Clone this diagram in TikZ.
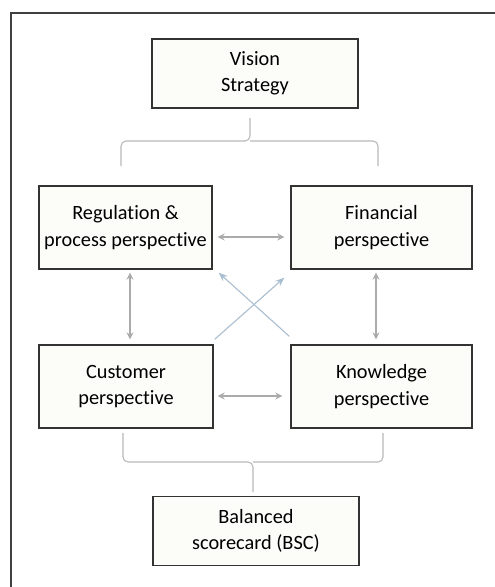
\documentclass[tikz,border=0pt]{standalone}
\usepackage{fontspec}
\setmainfont[RawFeature={-liga;-clig;-calt;-dlig}]{Carlito}
\usetikzlibrary{arrows.meta,calc}
\definecolor{boxfill}{HTML}{FCFCF8}
\definecolor{linkgray}{HTML}{ABABAB}
\definecolor{bracegray}{HTML}{B8B8B8}
\definecolor{crossblue}{HTML}{A9BED0}
\tikzset{
  persp/.style={draw=black!80,line width=1.3pt,fill=boxfill,align=center,
    font=\fontsize{20.3}{26.5}\selectfont,inner sep=0pt},
  twoway/.style={linkgray,line width=1.4pt,{Stealth[length=7pt,width=7pt]}-{Stealth[length=7pt,width=7pt]}},
  cross/.style={crossblue,line width=1.1pt,-{Stealth[length=9pt,width=7pt]}},
  brace/.style={bracegray,line width=1.1pt,rounded corners=5pt}
}
\newcommand{\persp}[5]{
  \node[persp,minimum width=#3,minimum height=#4] (#1) at #2 {#5};% one box
}
\begin{document}
\begin{tikzpicture}[x=1pt,y=-1pt]
  \useasboundingbox (0,0) rectangle (495,587);
  \draw[black!75,line width=1.6pt] (11,590) -- (11,13) -- (498,13);% Page frame

  \persp{vision}{(255,73.5)}{206pt}{69pt}{Vision\\Strategy}
  \persp{reg}{(125.5,227.5)}{173pt}{83pt}{Regulation \&\\process perspective}
  \persp{fin}{(381.5,227.5)}{181pt}{83pt}{Financial\\perspective}
  \persp{cust}{(126,386.5)}{174pt}{83pt}{Customer\\perspective}
  \persp{know}{(381.5,386.5)}{181pt}{83pt}{Knowledge\\perspective}
  \persp{bsc}{(256,531)}{206pt}{69pt}{Balanced\\scorecard (BSC)}

  % Braces
  \coordinate (topmid) at (250,141);
  \draw[brace] (121,166) |- (topmid) -- ([yshift=23pt]topmid);
  \draw[brace] (378,166) |- (topmid);
  \coordinate (botmid) at (253,462);
  \draw[brace] (123,433) |- (botmid) -- ([yshift=-30pt]botmid);
  \draw[brace] (383,433) |- (botmid);

  % Links between perspectives
  \draw[twoway] ([xshift=5pt,yshift=-9.5pt]reg.east) -- ([xshift=-6pt,yshift=-9.5pt]fin.west);
  \draw[twoway] ([xshift=4pt,yshift=-9.5pt]cust.east) -- ([xshift=-8pt,yshift=-9.5pt]know.west);
  \draw[twoway] ([xshift=4.5pt,yshift=-3pt]reg.south) -- ([xshift=4pt,yshift=5pt]cust.north);
  \draw[twoway] ([xshift=-5.5pt,yshift=-3pt]fin.south) -- ([xshift=-5.5pt,yshift=5pt]know.north);
  \draw[cross] ([xshift=1pt,yshift=5pt]cust.north east) -- ([xshift=-6pt,yshift=-8pt]fin.south west);
  \draw[cross] ([xshift=-1pt,yshift=8pt]know.north west) -- ([xshift=6pt,yshift=-3pt]reg.south east);
\end{tikzpicture}
\end{document}
